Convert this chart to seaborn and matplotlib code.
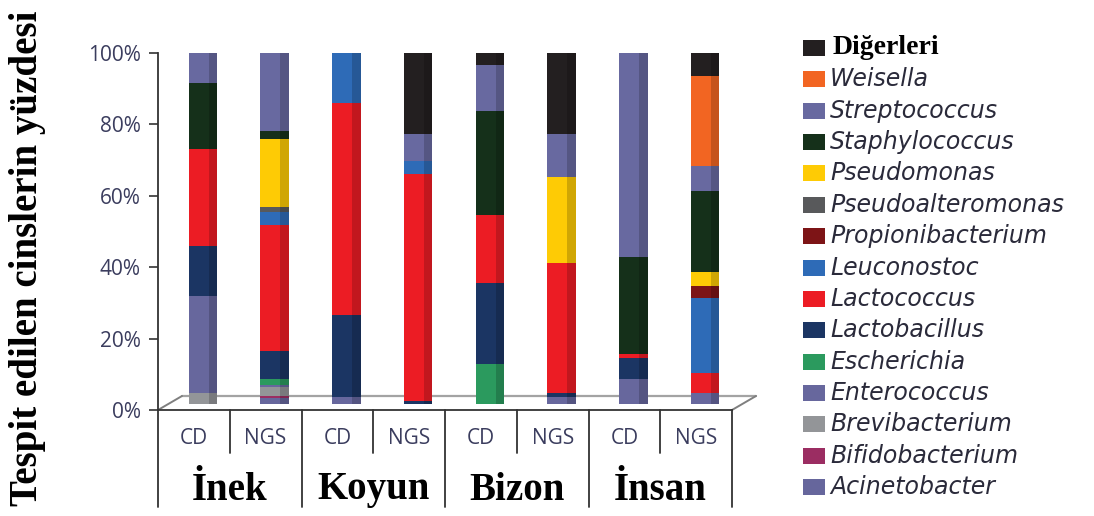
import numpy as np
import pandas as pd
import matplotlib
matplotlib.use("Agg")
import matplotlib.pyplot as plt
from matplotlib.colors import to_rgb
from matplotlib.patches import Rectangle
from matplotlib.lines import Line2D
from matplotlib.transforms import ScaledTranslation, blended_transform_factory
import seaborn as sns

# ---- data -------------------------------------------------------------
hosts = ["İnek", "Koyun", "Bizon", "İnsan"]
methods = ["CD", "NGS"]
samples = [f"{h} {m}" for h in hosts for m in methods]

# genera, stacked from the bottom upwards
genera = ["Acinetobacter", "Bifidobacterium", "Brevibacterium", "Enterococcus",
          "Escherichia", "Lactobacillus", "Lactococcus", "Leuconostoc",
          "Propionibacterium", "Pseudoalteromonas", "Pseudomonas",
          "Staphylococcus", "Streptococcus", "Weisella", "Diğerleri"]

# percentage of each genus per sample (order of `samples`)
acinetobacter     = [0.0, 1.8, 0.0, 0.0, 0.0, 0.0, 0.0, 0.0]
bifidobacterium   = [0.0, 0.5, 0.0, 0.0, 0.0, 0.0, 0.0, 0.0]
brevibacterium    = [3.2, 2.5, 0.0, 0.0, 0.0, 0.0, 0.0, 0.0]
enterococcus      = [26.9, 0.6, 1.9, 0.0, 0.0, 1.9, 6.9, 3.2]
escherichia       = [0.0, 1.5, 0.0, 0.0, 11.1, 0.0, 0.0, 0.0]
lactobacillus     = [14.0, 7.9, 23.1, 0.9, 22.7, 1.3, 6.1, 0.0]
lactococcus       = [27.3, 35.2, 59.3, 63.6, 19.0, 36.2, 0.9, 5.6]
leuconostoc       = [0.0, 3.7, 14.3, 3.5, 0.0, 0.0, 0.0, 20.8]
propionibacterium = [0.0, 0.0, 0.0, 0.0, 0.0, 0.0, 0.0, 3.3]
pseudoalteromonas = [0.0, 1.4, 0.0, 0.0, 0.0, 0.0, 0.0, 0.0]
pseudomonas       = [0.0, 19.0, 0.0, 0.0, 0.0, 24.0, 0.0, 4.1]
staphylococcus    = [18.5, 2.3, 0.0, 0.0, 29.1, 0.0, 27.3, 22.7]
streptococcus     = [9.6, 22.7, 0.0, 7.5, 13.0, 12.1, 58.3, 7.0]
weisella          = [0.0, 0.0, 0.0, 0.0, 0.0, 0.0, 0.0, 25.0]
digerleri         = [0.5, 0.9, 1.4, 24.5, 5.1, 24.5, 0.5, 8.3]

series = [acinetobacter, bifidobacterium, brevibacterium, enterococcus,
          escherichia, lactobacillus, lactococcus, leuconostoc,
          propionibacterium, pseudoalteromonas, pseudomonas,
          staphylococcus, streptococcus, weisella, digerleri]

colors = {
    "Acinetobacter": "#66669c", "Bifidobacterium": "#9b2d62",
    "Brevibacterium": "#939598", "Enterococcus": "#67679d",
    "Escherichia": "#2b9a5e", "Lactobacillus": "#1b3563",
    "Lactococcus": "#ec1c24", "Leuconostoc": "#2e6bb7",
    "Propionibacterium": "#7d1416", "Pseudoalteromonas": "#58595b",
    "Pseudomonas": "#fecb05", "Staphylococcus": "#15301a",
    "Streptococcus": "#6869a0", "Weisella": "#f26522",
    "Diğerleri": "#231f20",
}

long = pd.DataFrame(
    [(s, g, v[i]) for g, v in zip(genera, series) for i, s in enumerate(samples)],
    columns=["sample", "genus", "percent"],
)

# ---- figure -----------------------------------------------------------
sns.set_theme(style="white")
plt.rcParams["font.family"] = ["Open Sans", "DejaVu Sans"]
SERIF = ["Liberation Serif", "DejaVu Serif"]
AXIS_TXT = "#3b3d5e"
LINE = "#333333"

W, H = 1094, 516
fig = plt.figure(figsize=(W / 100, H / 100), dpi=100)
ax = fig.add_axes([158 / W, (H - 410) / H, (732 - 158) / W, (410 - 52.7) / H])

# bars stand a little behind the front edge of the floor (3-D look)
depth = ScaledTranslation(9 / 100, 6 / 100, fig.dpi_scale_trans)

bottom = np.zeros(len(samples))
for g in genera:
    sub = long[long["genus"] == g]
    n_before = len(ax.patches)
    sns.barplot(data=sub, x="sample", y="percent", order=samples,
                color=colors[g], width=0.40, bottom=bottom.copy(),
                saturation=1, linewidth=0, errorbar=None, ax=ax, zorder=3)
    for p in ax.patches[n_before:]:
        p.set_transform(ax.transData + depth)
    bottom += sub.set_index("sample").loc[samples, "percent"].to_numpy()

# darker side face on the right of every segment
for p in list(ax.patches):
    if p.get_height() <= 0:
        continue
    w = p.get_width()
    shade = tuple(c * 0.82 for c in to_rgb(p.get_facecolor()))
    ax.add_patch(Rectangle((p.get_x() + 0.70 * w, p.get_y()), 0.30 * w,
                           p.get_height(), facecolor=shade, edgecolor="none",
                           transform=ax.transData + depth, zorder=3.5))

ax.set_xlim(-0.5, len(samples) - 0.5)
ax.set_ylim(0, 100)
ax.set_yticks(np.arange(0, 101, 20))
ax.set_yticklabels([f"{v}%" for v in range(0, 101, 20)],
                   fontsize=15, color=AXIS_TXT)
ax.tick_params(axis="y", which="both", left=True, length=6.5, width=1.2,
               pad=6, color=LINE)
ax.set_xticks([])
ax.set_xlabel("")
ax.set_ylabel("")
for side in ["top", "right"]:
    ax.spines[side].set_visible(False)
for side in ["left", "bottom"]:
    ax.spines[side].set_color(LINE)
    ax.spines[side].set_linewidth(1.3)
    ax.spines[side].set_zorder(5)
ax.grid(False)

# floor of the 3-D plot area: back edge and the two slanted side edges
floor = ScaledTranslation(24 / 100, 14 / 100, fig.dpi_scale_trans)
x0, x1 = -0.5, len(samples) - 0.5
ax.add_line(Line2D([x0, x1], [0, 0], transform=ax.transData + floor,
                   color="#a3a3a3", lw=1.6, clip_on=False, zorder=1))
inv = ax.transData.inverted()
for xc in (x0, x1):
    front = ax.transData.transform((xc, 0))
    back = (ax.transData + floor).transform((xc, 0))
    a, b = inv.transform(front), inv.transform(back)
    ax.add_line(Line2D([a[0], b[0]], [a[1], b[1]], color="#7f7f7f",
                       lw=1.4, clip_on=False, zorder=1))

# category separators below the axis
sep = blended_transform_factory(ax.transData, fig.transFigure)
y_axis = (H - 410) / H
for i in range(len(samples) + 1):
    y_end = (H - 507) / H if i % 2 == 0 else (H - 453) / H
    fig.add_artist(Line2D([i - 0.5, i - 0.5], [y_axis, y_end], transform=sep,
                          color=LINE, lw=1.3))

# CD / NGS labels and host groups
for i, s in enumerate(samples):
    fig.text(i, (H - 438) / H, s.split()[-1], transform=sep,
             ha="center", va="center", fontsize=15, color=AXIS_TXT)
for j, h in enumerate(hosts):
    fig.text(2 * j + 0.5, (H - 490) / H, h, transform=sep,
             ha="center", va="center", fontsize=28, fontweight="bold",
             family=SERIF, color="black")

# y-axis title
fig.text(28 / W, (H - 258) / H, "Tespit edilen cinslerin yüzdesi",
         rotation=90, ha="center", va="center", fontsize=28,
         fontweight="bold", family=SERIF, color="black")

# legend, top entry first
leg_x, leg_y0, leg_dy = 803, 48, 31.36
for k, g in enumerate(genera[::-1]):
    yc = leg_y0 + k * leg_dy
    fig.add_artist(Rectangle((leg_x / W, (H - yc - 8) / H), 22 / W, 16 / H,
                             transform=fig.transFigure, facecolor=colors[g],
                             edgecolor="none"))
    if g == "Diğerleri":
        fig.text(833 / W, (H - yc) / H, g, ha="left", va="center",
                 fontsize=20, fontweight="bold", family=SERIF, color="black")
    else:
        fig.text(830 / W, (H - yc) / H, g, ha="left", va="center",
                 fontsize=17, style="italic", family=["DejaVu Sans"],
                 color="#2a2a3a")

fig.savefig("out.png", dpi=100)
